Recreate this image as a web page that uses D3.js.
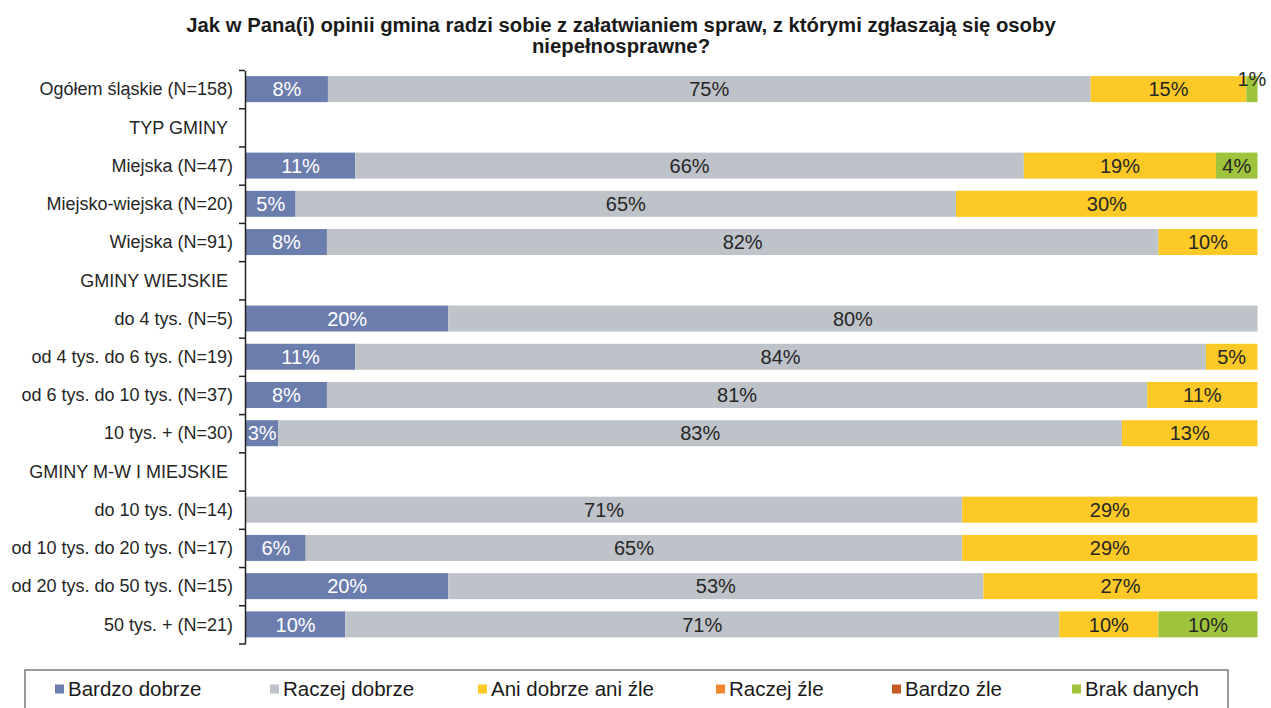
<!DOCTYPE html>
<html lang="pl">
<head>
<meta charset="utf-8">
<script src="https://cdn.jsdelivr.net/npm/d3@7"></script>
<style>
  html, body { margin: 0; padding: 0; background: #fff; }
  svg { display: block; font-family: "Liberation Sans", Arial, sans-serif; }
</style>
</head>
<body>
<svg id="chart" width="1271" height="708"></svg>
<script>
// Row labels (group headers have no bars)
const categories = [
  "Ogółem śląskie (N=158)",
  "TYP GMINY",
  "Miejska (N=47)",
  "Miejsko-wiejska (N=20)",
  "Wiejska (N=91)",
  "GMINY WIEJSKIE",
  "do 4 tys. (N=5)",
  "od 4 tys. do 6 tys. (N=19)",
  "od 6 tys. do 10 tys. (N=37)",
  "10 tys. + (N=30)",
  "GMINY M-W I MIEJSKIE",
  "do 10 tys. (N=14)",
  "od 10 tys. do 20 tys. (N=17)",
  "od 20 tys. do 50 tys. (N=15)",
  "50 tys. + (N=21)"
];
const headerRows = ["TYP GMINY", "GMINY WIEJSKIE", "GMINY M-W I MIEJSKIE"];

const seriesNames = ["Bardzo dobrze", "Raczej dobrze", "Ani dobrze ani źle", "Raczej źle", "Bardzo źle", "Brak danych"];
const seriesColors = ["#6b7dad", "#bec2c9", "#fcc927", "#f0862f", "#c55a22", "#9ec33c"];

// Percentages per series, in the order of categories (null = header row)
const bardzoDobrze = [8.1, null, 10.8, 4.9, 8.0, null, 20.0, 10.8, 8.0, 3.2, null, 0, 5.9, 20.0, 9.8];
const raczejDobrze = [75.4, null, 66.1, 65.3, 82.2, null, 80.0, 84.1, 81.1, 83.4, null, 70.8, 64.9, 52.9, 70.6];
const aniDobrzeAniZle = [15.4, null, 19.0, 29.8, 9.8, null, 0, 5.1, 10.9, 13.4, null, 29.2, 29.2, 27.1, 9.8];
const raczejZle = [0, null, 0, 0, 0, null, 0, 0, 0, 0, null, 0, 0, 0, 0];
const bardzoZle = [0, null, 0, 0, 0, null, 0, 0, 0, 0, null, 0, 0, 0, 0];
const brakDanych = [1.1, null, 4.1, 0, 0, null, 0, 0, 0, 0, null, 0, 0, 0, 9.8];

const titleLines = [
  "Jak w Pana(i) opinii gmina radzi sobie z załatwianiem spraw, z którymi zgłaszają się osoby",
  "niepełnosprawne?"
];

const seriesValues = [bardzoDobrze, raczejDobrze, aniDobrzeAniZle, raczejZle, bardzoZle, brakDanych];

// Build stacked table
const rows = categories.map((c, i) => {
  const r = { category: c };
  seriesNames.forEach((s, k) => { r[s] = seriesValues[k][i] || 0; });
  return r;
});
const stacked = d3.stack().keys(seriesNames)(rows);

const svg = d3.select("#chart");

const x = d3.scaleLinear().domain([0, 100]).range([246, 1257.5]);
const y = d3.scaleBand().domain(categories).range([70.5, 644]).paddingInner(0.32).paddingOuter(0.16);
const color = d3.scaleOrdinal().domain(seriesNames).range(seriesColors);

// Title
svg.append("g").selectAll("text").data(titleLines).join("text")
  .attr("x", 621).attr("y", (d, i) => 32 + i * 21)
  .attr("text-anchor", "middle")
  .attr("font-size", 20.3).attr("font-weight", "bold").attr("fill", "#1a1a1a")
  .text(d => d);

// Bars
const layers = svg.append("g").selectAll("g").data(stacked).join("g")
  .attr("fill", d => color(d.key));

layers.selectAll("rect")
  .data(d => d.filter(p => !headerRows.includes(p.data.category) && p[1] - p[0] > 0))
  .join("rect")
  .attr("x", d => x(d[0]))
  .attr("y", d => y(d.data.category) - 0.5)
  .attr("width", d => x(d[1]) - x(d[0]))
  .attr("height", y.bandwidth());

// Value labels
const labelG = svg.append("g").attr("font-size", 20);
stacked.forEach((layer, k) => {
  layer.forEach(p => {
    const v = p[1] - p[0];
    if (headerRows.includes(p.data.category) || v <= 0) return;
    const w = x(p[1]) - x(p[0]);
    const narrow = w < 20;
    labelG.append("text")
      .attr("x", (x(p[0]) + x(p[1])) / 2)
      .attr("y", y(p.data.category) + y.bandwidth() / 2 - 0.5 + (narrow ? -10 : 0))
      .attr("dy", "0.36em")
      .attr("text-anchor", "middle")
      .attr("fill", k === 0 ? "#ffffff" : "#262626")
      .text(Math.round(v) + "%");
  });
});

// Category axis
const axis = svg.append("g").attr("transform", "translate(245,0)")
  .call(d3.axisLeft(y).tickSize(0).tickPadding(12));
axis.select(".domain").attr("stroke", "#222").attr("stroke-width", 1.5);
axis.selectAll("text")
  .attr("font-size", 18).attr("fill", "#262626")
  .attr("font-family", "Liberation Sans, Arial, sans-serif")
  .attr("dx", d => headerRows.includes(d) ? -5 : 0);

// Boundary tick marks between rows
const bounds = categories.map(c => y(c) - y.step() * y.paddingInner() / 2);
bounds.push(644);
bounds[0] = 70.5;
svg.append("g").selectAll("line").data(bounds).join("line")
  .attr("x1", 239).attr("x2", 245)
  .attr("y1", d => d).attr("y2", d => d)
  .attr("stroke", "#222").attr("stroke-width", 1.5);

// Legend
const legend = svg.append("g");
legend.append("rect")
  .attr("x", 25).attr("y", 670).attr("width", 1203).attr("height", 60)
  .attr("fill", "none").attr("stroke", "#7a7a7a").attr("stroke-width", 1.5);
const legendX = [55, 270, 478, 716, 892, 1072];
const items = legend.selectAll("g.item").data(seriesNames).join("g")
  .attr("class", "item")
  .attr("transform", (d, i) => `translate(${legendX[i]},689)`);
items.append("rect").attr("x", 0).attr("y", -4.5).attr("width", 9).attr("height", 9)
  .attr("fill", d => color(d));
items.append("text").attr("x", 13).attr("y", 0).attr("dy", "0.36em")
  .attr("font-size", 20.5).attr("fill", "#1a1a1a").text(d => d);
</script>
</body>
</html>
